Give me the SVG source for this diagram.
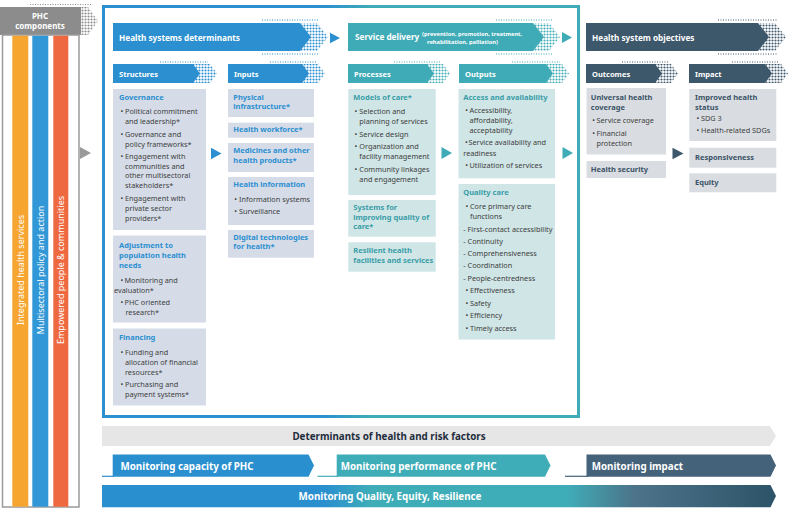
<svg xmlns="http://www.w3.org/2000/svg" width="790" height="516" viewBox="0 0 790 516">
<style>
text{font-family:"Noto Sans","Open Sans","Liberation Sans",sans-serif}
.hd{font-size:8.2px;font-weight:bold;fill:#fff}
.sh{font-size:7.5px;font-weight:bold;fill:#fff}
.b{font-size:7.3px;fill:#404040}
.tb{font-size:7.5px;font-weight:bold;fill:#2b8fd0}
.tt{font-size:7.5px;font-weight:bold;fill:#3a9ea8}
.td{font-size:7.5px;font-weight:bold;fill:#3b5266}
.bxb{fill:#d5dce8}
.bxt{fill:#cfe5e6}
.bxd{fill:#d9dde2}
.rot{font-size:9px;fill:#fff;text-anchor:middle}
.bt{font-size:9.8px;font-weight:bold;fill:#fff}
.sm{font-size:5.7px;font-weight:bold;fill:#fff}
</style>
<defs>
<pattern id="dB" width="3" height="3" patternUnits="userSpaceOnUse"><circle cx="1.5" cy="1.5" r="1.05" fill="#2b8fd0"/></pattern>
<pattern id="dT" width="3" height="3" patternUnits="userSpaceOnUse"><circle cx="1.5" cy="1.5" r="1.05" fill="#3eabb6"/></pattern>
<pattern id="dD" width="3" height="3" patternUnits="userSpaceOnUse"><circle cx="1.5" cy="1.5" r="1.05" fill="#3d576b"/></pattern>
<pattern id="dG" width="3" height="3" patternUnits="userSpaceOnUse"><circle cx="1.5" cy="1.5" r="1.05" fill="#8c8c8c"/></pattern>
<linearGradient id="frameG" gradientUnits="userSpaceOnUse" x1="103" y1="0" x2="580" y2="0">
<stop offset="0" stop-color="#2b8fd0"/><stop offset="0.46" stop-color="#2b8fd0"/><stop offset="0.56" stop-color="#3eabb6"/><stop offset="1" stop-color="#3eabb6"/>
</linearGradient>
<linearGradient id="qG" gradientUnits="userSpaceOnUse" x1="102" y1="0" x2="776" y2="0">
<stop offset="0" stop-color="#2a8fcf"/><stop offset="0.33" stop-color="#2a8fcf"/><stop offset="0.4" stop-color="#3fadb8"/><stop offset="0.69" stop-color="#3fadb8"/><stop offset="0.79" stop-color="#4c7389"/><stop offset="1" stop-color="#2d5369"/>
</linearGradient>
</defs>

<!-- PHC components -->
<g id="phc">
<line x1="30" y1="4.5" x2="92" y2="4.5" stroke="#8c8c8c" stroke-width="1.2" stroke-dasharray="1 1.5"/>
<polygon points="70,7 88,7 98,21 88,35 70,35 80,21" fill="url(#dG)"/>
<rect x="0" y="7" width="81" height="28" fill="#8c8c8c"/>
<text x="40" y="19" text-anchor="middle" style="font-size:8px;font-weight:bold;fill:#fff">PHC</text>
<text x="40" y="28.5" text-anchor="middle" style="font-size:8px;font-weight:bold;fill:#fff">components</text>
<rect x="2.5" y="35" width="76.5" height="472" fill="#fff" stroke="#9a9a9a" stroke-width="1.5"/>
<rect x="12.3" y="35.7" width="16" height="471" fill="#f6a530"/>
<rect x="32.3" y="35.7" width="16" height="471" fill="#3197d6"/>
<rect x="53.3" y="35.7" width="15" height="471" fill="#ef6940"/>
<text class="rot" transform="translate(23.5,270) rotate(-90)">Integrated health services</text>
<text class="rot" transform="translate(43.5,270) rotate(-90)">Multisectoral policy and action</text>
<text class="rot" transform="translate(64,270) rotate(-90)">Empowered people &amp; communities</text>
<polygon points="80,147 91,153 80,159" fill="#9a9a9a"/>
</g>

<!-- main frame -->
<rect x="103.5" y="6.5" width="475" height="410" fill="none" stroke="url(#frameG)" stroke-width="3"/>

<!-- header arrows -->
<g id="hdr-hsd">
<line x1="262" y1="20" x2="318" y2="20" stroke="#2b8fd0" stroke-width="1.2" stroke-dasharray="1 1.5"/>
<line x1="262" y1="54" x2="318" y2="54" stroke="#2b8fd0" stroke-width="1.2" stroke-dasharray="1 1.5"/>
<polygon points="290,23 317,23 328,37 317,51 290,51 301,37" fill="url(#dB)"/>
<polygon points="113,23 300,23 311,37 300,51 113,51" fill="#2b8fd0"/>
<text x="119" y="40.5" class="hd">Health systems determinants</text>
</g>
<g id="hdr-sd">
<line x1="496" y1="20" x2="552" y2="20" stroke="#3eabb6" stroke-width="1.2" stroke-dasharray="1 1.5"/>
<line x1="496" y1="54" x2="552" y2="54" stroke="#3eabb6" stroke-width="1.2" stroke-dasharray="1 1.5"/>
<polygon points="523,23 549,23 560,37 549,51 523,51 534,37" fill="url(#dT)"/>
<polygon points="348,23 533,23 544,37 533,51 348,51" fill="#3eabb6"/>
<text x="355" y="39.5" class="hd">Service delivery</text>
<text x="422" y="35.6" class="sm">(prevention, promotion, treatment,</text>
<text x="427" y="44" class="sm">rehabilitation, palliation)</text>
</g>
<g id="hdr-obj">
<line x1="718" y1="20" x2="778" y2="20" stroke="#3d576b" stroke-width="1.2" stroke-dasharray="1 1.5"/>
<line x1="718" y1="54" x2="778" y2="54" stroke="#3d576b" stroke-width="1.2" stroke-dasharray="1 1.5"/>
<polygon points="748,23 775,23 786,37 775,51 748,51 759,37" fill="url(#dD)"/>
<polygon points="586,23 758,23 769,37 758,51 586,51" fill="#3d576b"/>
<text x="592" y="40.5" class="hd">Health system objectives</text>
</g>

<!-- sub headers -->
<g id="sh-structures">
<line x1="160" y1="62" x2="208" y2="62" stroke="#2b8fd0" stroke-width="1" stroke-dasharray="1 1.5"/>
<polygon points="183,64 210,64 217,73.5 210,83 183,83 190,73.5" fill="url(#dB)"/>
<polygon points="113,64 193,64 200,73.5 193,83 113,83" fill="#2b8fd0"/>
<text x="119" y="76.5" class="sh">Structures</text>
</g>
<g id="sh-inputs">
<line x1="270" y1="62" x2="316" y2="62" stroke="#2b8fd0" stroke-width="1" stroke-dasharray="1 1.5"/>
<polygon points="292,64 318,64 325,73.5 318,83 292,83 299,73.5" fill="url(#dB)"/>
<polygon points="228,64 302,64 309,73.5 302,83 228,83" fill="#2b8fd0"/>
<text x="234" y="76.5" class="sh">Inputs</text>
</g>
<g id="sh-processes">
<line x1="394" y1="62" x2="441" y2="62" stroke="#3eabb6" stroke-width="1" stroke-dasharray="1 1.5"/>
<polygon points="417,64 443,64 450,73.5 443,83 417,83 424,73.5" fill="url(#dT)"/>
<polygon points="348,64 427,64 434,73.5 427,83 348,83" fill="#3eabb6"/>
<text x="354" y="76.5" class="sh">Processes</text>
</g>
<g id="sh-outputs">
<line x1="512" y1="62" x2="560" y2="62" stroke="#3eabb6" stroke-width="1" stroke-dasharray="1 1.5"/>
<polygon points="536,64 562,64 569,73.5 562,83 536,83 543,73.5" fill="url(#dT)"/>
<polygon points="459,64 546,64 553,73.5 546,83 459,83" fill="#3eabb6"/>
<text x="465" y="76.5" class="sh">Outputs</text>
</g>
<g id="sh-outcomes">
<line x1="622" y1="62" x2="669" y2="62" stroke="#3d576b" stroke-width="1" stroke-dasharray="1 1.5"/>
<polygon points="645,64 671,64 678,73.5 671,83 645,83 652,73.5" fill="url(#dD)"/>
<polygon points="586,64 655,64 662,73.5 655,83 586,83" fill="#3d576b"/>
<text x="592" y="76.5" class="sh">Outcomes</text>
</g>
<g id="sh-impact">
<line x1="732" y1="62" x2="779" y2="62" stroke="#3d576b" stroke-width="1" stroke-dasharray="1 1.5"/>
<polygon points="755,64 781,64 788,73.5 781,83 755,83 762,73.5" fill="url(#dD)"/>
<polygon points="689,64 765,64 772,73.5 765,83 689,83" fill="#3d576b"/>
<text x="695" y="76.5" class="sh">Impact</text>
</g>

<!-- connectors (flow arrows) -->
<g id="connectors">
<polygon points="330,32.7 340,38 330,43.3" fill="#2b8fd0"/>
<polygon points="562,32 572,37.5 562,43" fill="#3eabb6"/>
<polygon points="211,147.7 221.5,153.5 211,159.3" fill="#2b8fd0"/>
<polygon points="441.5,147 452,153 441.5,159" fill="#3eabb6"/>
<polygon points="562.5,147 573,153 562.5,159" fill="#3eabb6"/>
<polygon points="672.5,147.7 683.5,153.5 672.5,159.3" fill="#3d576b"/>
</g>

<!-- Structures -->
<g id="governance">
<rect x="113" y="89" width="93" height="141" class="bxb"/>
<text x="119" y="100" class="tb">Governance</text>
<text class="b"><tspan x="120.5" y="114.3">•</tspan><tspan x="125" y="114.3">Political commitment</tspan><tspan x="125" y="124">and leadership*</tspan>
<tspan x="120.5" y="137">•</tspan><tspan x="125" y="137">Governance and</tspan><tspan x="125" y="147">policy frameworks*</tspan>
<tspan x="120.5" y="159">•</tspan><tspan x="125" y="159">Engagement with</tspan><tspan x="125" y="168.5">communities and</tspan><tspan x="125" y="178">other multisectoral</tspan><tspan x="125" y="187.5">stakeholders*</tspan>
<tspan x="120.5" y="201">•</tspan><tspan x="125" y="201">Engagement with</tspan><tspan x="125" y="211">private sector</tspan><tspan x="125" y="220.7">providers*</tspan></text>
</g>
<g id="adjustment">
<rect x="113" y="235.5" width="93" height="87" class="bxb"/>
<text class="tb"><tspan x="119" y="248.3">Adjustment to</tspan><tspan x="119" y="258.3">population health</tspan><tspan x="119" y="268.3">needs</tspan></text>
<text class="b"><tspan x="120.5" y="283.3">•</tspan><tspan x="124.5" y="283.3">Monitoring and</tspan><tspan x="114" y="293.3">evaluation*</tspan>
<tspan x="120.5" y="305.3">•</tspan><tspan x="124.5" y="305.3">PHC oriented</tspan><tspan x="125.5" y="315">research*</tspan></text>
</g>
<g id="financing">
<rect x="113" y="328.5" width="93" height="77" class="bxb"/>
<text x="119" y="340" class="tb">Financing</text>
<text class="b"><tspan x="120.5" y="355">•</tspan><tspan x="125" y="355">Funding and</tspan><tspan x="125" y="365">allocation of financial</tspan><tspan x="125" y="375">resources*</tspan>
<tspan x="120.5" y="387.3">•</tspan><tspan x="125" y="387.3">Purchasing and</tspan><tspan x="125" y="396.7">payment systems*</tspan></text>
</g>

<!-- Inputs -->
<g id="physical">
<rect x="228" y="89" width="86" height="28" class="bxb"/>
<text class="tb"><tspan x="233.3" y="100">Physical</tspan><tspan x="233.3" y="109.3">infrastructure*</tspan></text>
</g>
<g id="workforce">
<rect x="228" y="122.7" width="86" height="15" class="bxb"/>
<text x="233.3" y="132" class="tb">Health workforce*</text>
</g>
<g id="medicines">
<rect x="228" y="143" width="86" height="29" class="bxb"/>
<text class="tb"><tspan x="233.3" y="153.3">Medicines and other</tspan><tspan x="233.3" y="162.5">health products*</tspan></text>
</g>
<g id="healthinfo">
<rect x="228" y="177" width="86" height="48" class="bxb"/>
<text x="233.3" y="187.3" class="tb">Health information</text>
<text class="b"><tspan x="234.3" y="201.7">•</tspan><tspan x="239" y="201.7">Information systems</tspan><tspan x="234.3" y="214.3">•</tspan><tspan x="239" y="214.3">Surveillance</tspan></text>
</g>
<g id="digital">
<rect x="228" y="230" width="86" height="27.7" class="bxb"/>
<text class="tb"><tspan x="233.3" y="240">Digital technologies</tspan><tspan x="233.3" y="249.3">for health*</tspan></text>
</g>

<!-- Processes -->
<g id="models">
<rect x="348.3" y="89" width="87.4" height="106" class="bxt"/>
<text x="353.3" y="100" class="tt">Models of care*</text>
<text class="b"><tspan x="354.5" y="114">•</tspan><tspan x="359.3" y="114">Selection and</tspan><tspan x="359.3" y="123.7">planning of services</tspan>
<tspan x="354.5" y="136.7">•</tspan><tspan x="359.3" y="136.7">Service design</tspan>
<tspan x="354.5" y="149.3">•</tspan><tspan x="359.3" y="149.3">Organization and</tspan><tspan x="359.3" y="159">facility management</tspan>
<tspan x="354.5" y="171.7">•</tspan><tspan x="359.3" y="171.7">Community linkages</tspan><tspan x="359.3" y="181.5">and engagement</tspan></text>
</g>
<g id="systemsq">
<rect x="348.3" y="200" width="87.4" height="36.7" class="bxt"/>
<text class="tt"><tspan x="353.3" y="210">Systems for</tspan><tspan x="353.3" y="219.5">improving quality of</tspan><tspan x="353.3" y="229.3">care*</tspan></text>
</g>
<g id="resilient">
<rect x="348.3" y="242.3" width="87.4" height="29.4" class="bxt"/>
<text class="tt"><tspan x="353.3" y="253.3">Resilient health</tspan><tspan x="353.3" y="263.3">facilities and services</tspan></text>
</g>

<!-- Outputs -->
<g id="access">
<rect x="458.5" y="89" width="96.5" height="89.3" class="bxt"/>
<text x="463.3" y="100" class="tt">Access and availability</text>
<text class="b"><tspan x="465.3" y="113.3">•</tspan><tspan x="469.5" y="113.3">Accessibility,</tspan><tspan x="469.5" y="123.3">affordability,</tspan><tspan x="469.5" y="133.3">acceptability</tspan>
<tspan x="465" y="145">•</tspan><tspan x="468.5" y="145">Service availability and</tspan><tspan x="463.3" y="155.7">readiness</tspan>
<tspan x="465.3" y="168.3">•</tspan><tspan x="469.5" y="168.3">Utilization of services</tspan></text>
</g>
<g id="quality">
<rect x="458.5" y="184" width="96.5" height="155.5" class="bxt"/>
<text x="463.3" y="194.5" class="tt">Quality care</text>
<text class="b"><tspan x="465.5" y="209.3">•</tspan><tspan x="470" y="209.3">Core primary care</tspan><tspan x="470" y="218.7">functions</tspan>
<tspan x="463.3" y="231.5">- First-contact accessibility</tspan>
<tspan x="463.3" y="243.5">- Continuity</tspan>
<tspan x="463.3" y="256">- Comprehensiveness</tspan>
<tspan x="463.3" y="268.3">- Coordination</tspan>
<tspan x="463.3" y="281">- People-centredness</tspan>
<tspan x="465.5" y="293.3">•</tspan><tspan x="470" y="293.3">Effectiveness</tspan>
<tspan x="465.5" y="306">•</tspan><tspan x="470" y="306">Safety</tspan>
<tspan x="465.5" y="318.3">•</tspan><tspan x="470" y="318.3">Efficiency</tspan>
<tspan x="465.5" y="330.7">•</tspan><tspan x="470" y="330.7">Timely access</tspan></text>
</g>

<!-- Outcomes -->
<g id="uhc">
<rect x="586.5" y="88" width="79.5" height="66.5" class="bxd"/>
<text class="td"><tspan x="590.8" y="100">Universal health</tspan><tspan x="590.8" y="110">coverage</tspan></text>
<text class="b"><tspan x="592.3" y="123.3">•</tspan><tspan x="596.5" y="123.3">Service coverage</tspan><tspan x="592.3" y="135.7">•</tspan><tspan x="596.5" y="135.7">Financial</tspan><tspan x="596.5" y="146">protection</tspan></text>
</g>
<g id="security">
<rect x="586.5" y="161" width="79.5" height="17" class="bxd"/>
<text x="590.8" y="171.7" class="td">Health security</text>
</g>

<!-- Impact -->
<g id="improved">
<rect x="689.3" y="89" width="87" height="52" class="bxd"/>
<text class="td"><tspan x="695" y="100">Improved health</tspan><tspan x="695" y="110">status</tspan></text>
<text class="b"><tspan x="696.5" y="121">•</tspan><tspan x="701" y="121">SDG 3</tspan><tspan x="696.5" y="133.3">•</tspan><tspan x="701" y="133.3">Health-related SDGs</tspan></text>
</g>
<g id="responsiveness">
<rect x="689.3" y="147.7" width="87" height="20" class="bxd"/>
<text x="695" y="160.3" class="td">Responsiveness</text>
</g>
<g id="equity">
<rect x="689.3" y="173.3" width="87" height="19" class="bxd"/>
<text x="695" y="184.5" class="td">Equity</text>
</g>

<!-- bottom bars -->
<g id="determinants">
<polygon points="102,426 770,426 776,436 770,446 102,446" fill="#e6e6e6"/>
<text x="389" y="439.7" text-anchor="middle" style="font-size:9.8px;font-weight:bold;fill:#1f2d3d">Determinants of health and risk factors</text>
</g>
<g id="mon-capacity">
<line x1="102" y1="476.3" x2="114" y2="476.3" stroke="#2a8fcf" stroke-width="1.2"/>
<polygon points="112.7,454.5 308.5,454.5 314,465.5 308.5,476.8 112.7,476.8" fill="#2a8fcf"/>
<text x="120.5" y="469.5" class="bt">Monitoring capacity of PHC</text>
</g>
<g id="mon-performance">
<line x1="317.5" y1="476.3" x2="338" y2="476.3" stroke="#3fadb8" stroke-width="1.2"/>
<polygon points="336.7,454.5 545,454.5 550.5,465.5 545,476.8 336.7,476.8" fill="#3fadb8"/>
<text x="340.7" y="469.5" class="bt">Monitoring performance of PHC</text>
</g>
<g id="mon-impact">
<line x1="565" y1="476.3" x2="588" y2="476.3" stroke="#44627a" stroke-width="1.2"/>
<polygon points="586.5,454.5 770.5,454.5 776,465.5 770.5,476.8 586.5,476.8" fill="#44627a"/>
<text x="591.7" y="469.5" class="bt">Monitoring impact</text>
</g>
<g id="mon-quality">
<polygon points="102,485 770.5,485 776,496 770.5,507.3 102,507.3" fill="url(#qG)"/>
<text x="390" y="499.7" text-anchor="middle" class="bt">Monitoring Quality, Equity, Resilience</text>
</g>
</svg>
